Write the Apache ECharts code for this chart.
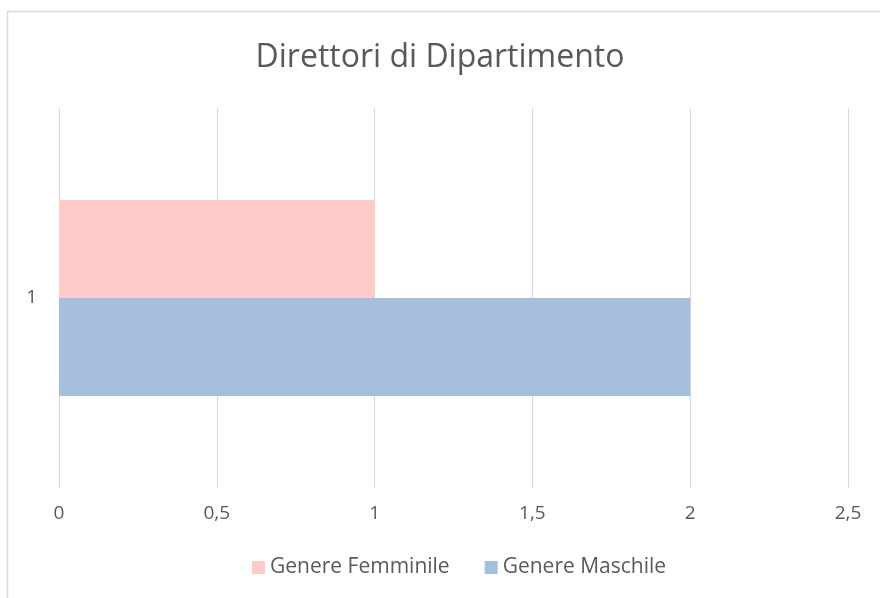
<!DOCTYPE html>
<html>
<head>
<meta charset="utf-8">
<title>Direttori di Dipartimento</title>
<script src="https://cdn.jsdelivr.net/npm/echarts@6/dist/echarts.min.js"></script>
<style>
    html, body { margin: 0; padding: 0; background: #fff; }
    #chart { width: 880px; height: 598px; }
</style>
</head>
<body>
<div id="chart"></div>
<script>
// dati
var categorie = ['1'];
var femminile = [1];
var maschile = [2];
var nomiSerie = ['Genere Femminile', 'Genere Maschile'];

var myChart = echarts.init(document.getElementById('chart'));
var option = {
    animation: false,
    textStyle: {
        fontFamily: '"Open Sans", sans-serif'
    },
    title: {
        text: 'Direttori di Dipartimento',
        left: 'center',
        top: 37,
        textStyle: {
            color: '#595959',
            fontSize: 32,
            fontWeight: 'normal'
        }
    },
    graphic: [{
        // cornice del grafico
        type: 'rect',
        shape: { x: 7.5, y: 11.5, width: 900, height: 620 },
        style: { fill: 'none', stroke: '#d9d9d9', lineWidth: 1.5 },
        silent: true
    }],
    legend: {
        bottom: 15,
        left: 247,
        itemWidth: 13,
        itemHeight: 13,
        itemGap: 35,
        icon: 'rect',
        textStyle: {
            color: '#595959',
            fontSize: 21
        },
        data: nomiSerie
    },
    grid: {
        left: 59,
        right: 32,
        top: 108,
        bottom: 110
    },
    xAxis: {
        type: 'value',
        min: 0,
        max: 2.5,
        interval: 0.5,
        axisLine: { show: false },
        axisTick: { show: false },
        axisLabel: {
            color: '#595959',
            fontSize: 19,
            margin: 16,
            formatter: function(value) {
                return String(value).replace('.', ',');
            }
        },
        splitLine: {
            lineStyle: { color: '#d9d9d9', width: 1 }
        }
    },
    yAxis: {
        type: 'category',
        data: categorie,
        axisLine: { show: false },
        axisTick: { show: false },
        axisLabel: {
            color: '#595959',
            fontSize: 19,
            margin: 22
        }
    },
    series: [{
        name: nomiSerie[0],
        type: 'bar',
        data: femminile,
        barWidth: 98,
        barGap: '0%',
        itemStyle: { color: '#ffcaca' }
    }, {
        name: nomiSerie[1],
        type: 'bar',
        data: maschile,
        barWidth: 98,
        barGap: '0%',
        itemStyle: { color: '#a7bfdf' }
    }]
};
myChart.setOption(option);
</script>
</body>
</html>
